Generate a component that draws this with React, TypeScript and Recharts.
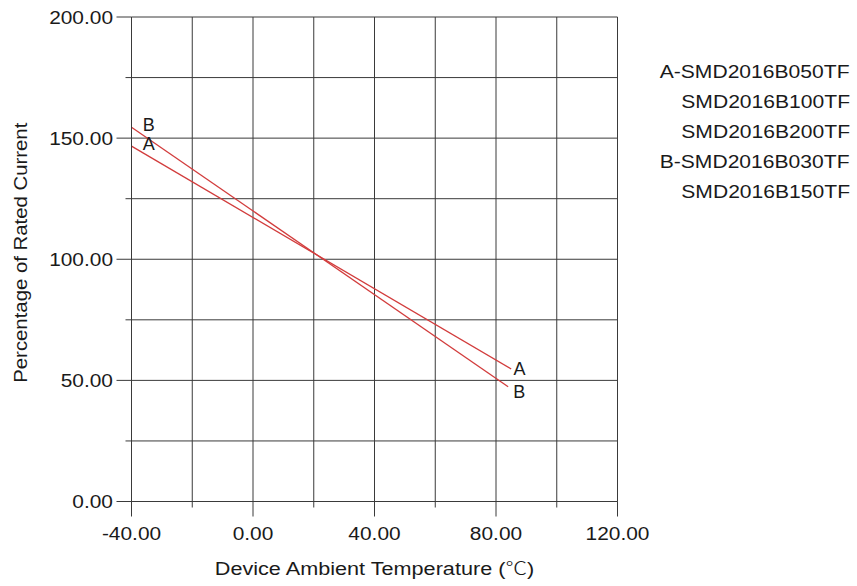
import { CartesianGrid, Legend, Line, LineChart, XAxis, YAxis } from "recharts"

// axis ticks (every grid line), labels only on the major ones
const xTicks = [-40, -20, 0, 20, 40, 60, 80, 100, 120]
const yTicks = [0, 25, 50, 75, 100, 125, 150, 175, 200]

// derating curves, temperature (C) -> percentage of rated current
const curveA = [
  { temp: -40, pct: 146.7 },
  { temp: 85, pct: 54.7 },
]
const curveB = [
  { temp: -40, pct: 154.5 },
  { temp: 84, pct: 47.4 },
]

const legendRows = [
  "A-SMD2016B050TF",
  "SMD2016B100TF",
  "SMD2016B200TF",
  "B-SMD2016B030TF",
  "SMD2016B150TF",
]

const FONT = '"Liberation Sans", Arial, sans-serif'
const CJK = '"Noto Sans CJK SC", "Noto Sans CJK JP", sans-serif'
const INK = "#1a1a1a"
const GRID = "#3a3a3a"
const RED = "#d23c3c"
const FS = 18.5

const textStyle = { fontFamily: FONT, fontSize: FS, fill: INK }

// the source lettering is a little wider than plain Arial
const Wide = ({ x, y, k, anchor, children }: any) => (
  <g transform={`translate(${x} ${y}) scale(${k} 1)`}>
    <text x={0} y={0} dy="0.36em" textAnchor={anchor} style={textStyle}>
      {children}
    </text>
  </g>
)

const XTick = ({ x, y, payload }: any) => {
  const major = payload.value % 40 === 0
  return (
    <g>
      <line x1={x} x2={x} y1={y} y2={y + (major ? 15 : 6)} stroke={GRID} />
      {major && (
        <Wide x={x} y={y + 31.5} k={1.13} anchor="middle">
          {payload.value.toFixed(2)}
        </Wide>
      )}
    </g>
  )
}

const YTick = ({ x, y, payload }: any) => {
  const major = payload.value % 50 === 0
  return (
    <g>
      <line x1={x - (major ? 15 : 6)} x2={x} y1={y} y2={y} stroke={GRID} />
      {major && (
        <Wide x={x - 18.5} y={y} k={1.13} anchor="end">
          {payload.value.toFixed(2)}
        </Wide>
      )}
    </g>
  )
}

const XTitle = (props: any) => {
  const vb = props.viewBox
  return (
    <Wide x={vb.x + vb.width / 2} y={vb.y + 66.8} k={1.17} anchor="middle">
      Device Ambient Temperature (<tspan style={{ fontFamily: CJK, fontWeight: 300 }}>℃</tspan>)
    </Wide>
  )
}

const YTitle = (props: any) => {
  const vb = props.viewBox
  const cx = vb.x - 31.5
  const cy = vb.y + vb.height / 2 - 6.5
  return (
    <g transform={`translate(${cx} ${cy}) rotate(-90) scale(1.1 1)`}>
      <text x={0} y={0} dy="0.36em" textAnchor="middle" style={textStyle}>
        Percentage of Rated Current
      </text>
    </g>
  )
}

// letter at each end of a curve
const endLabel = (name: string, offs: [number, number][]) => (props: any) => {
  const x = props.x ?? props.viewBox?.x
  const y = props.y ?? props.viewBox?.y
  const [dx, dy] = offs[props.index] ?? [0, 0]
  return (
    <text key={name + props.index} x={x + dx} y={y + dy} dy="0.36em" textAnchor="middle"
      style={{ fontFamily: FONT, fontSize: 18, fill: INK }}>
      {name}
    </text>
  )
}

const LegendBox = () => (
  <div
    style={{
      textAlign: "right",
      fontFamily: FONT,
      fontSize: FS,
      lineHeight: "30px",
      color: INK,
    }}
  >
    {legendRows.map((r) => (
      <div key={r}>
        <span style={{ display: "inline-block", transform: "scaleX(1.14)", transformOrigin: "right center" }}>
          {r}
        </span>
      </div>
    ))}
  </div>
)

export default function App() {
  return (
    <div style={{ position: "absolute", left: 0, top: 0, background: "#fff" }}>
      <LineChart
        width={857}
        height={586}
        margin={{ top: 17, right: 239.5, bottom: 24.5, left: 51.5 }}
      >
        <CartesianGrid stroke={GRID} />
        <XAxis
          type="number"
          dataKey="temp"
          domain={[-40, 120]}
          ticks={xTicks}
          interval={0}
          height={60}
          tick={<XTick />}
          tickLine={false}
          tickSize={0}
          tickMargin={0}
          axisLine={{ stroke: GRID }}
          label={{ content: <XTitle /> }}
        />
        <YAxis
          type="number"
          dataKey="pct"
          domain={[0, 200]}
          ticks={yTicks}
          interval={0}
          width={80}
          tick={<YTick />}
          tickLine={false}
          tickSize={0}
          tickMargin={0}
          axisLine={{ stroke: GRID }}
          label={{ content: <YTitle /> }}
        />
        <Legend
          layout="horizontal"
          verticalAlign="middle"
          align="center"
          wrapperStyle={{ top: 57, left: 599, width: 251, height: "auto" }}
          content={<LegendBox />}
        />
        <Line
          data={curveA}
          dataKey="pct"
          stroke={RED}
          strokeWidth={1.3}
          dot={false}
          activeDot={false}
          isAnimationActive={false}
          label={endLabel("A", [[17.3, -3], [8.3, 0]])}
        />
        <Line
          data={curveB}
          dataKey="pct"
          stroke={RED}
          strokeWidth={1.3}
          dot={false}
          activeDot={false}
          isAnimationActive={false}
          label={endLabel("B", [[17.3, -3], [11, 5]])}
        />
      </LineChart>
    </div>
  )
}
